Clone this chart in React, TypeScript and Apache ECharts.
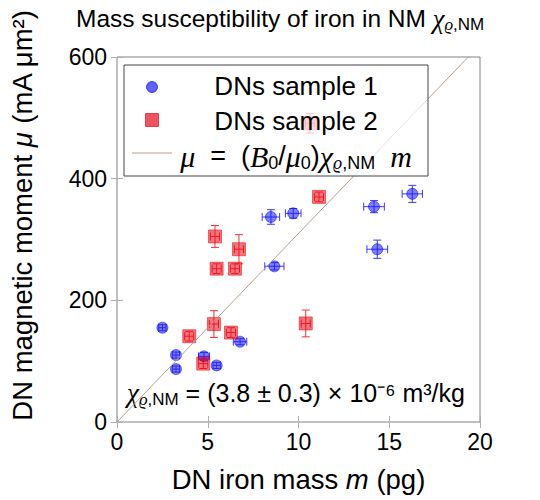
import React, { useEffect, useRef } from "react";
import * as echarts from "echarts";

// ---------- data ----------
const xTickValues = [0, 5, 10, 15, 20];
const yTickValues = [0, 200, 400, 600];

// DNs sample 1 (blue circles): iron mass m (pg), moment mu (mA µm²), and errors
const s1Mass = [2.5, 3.25, 3.25, 4.79, 5.49, 6.78, 8.48, 9.71, 8.67, 14.16, 14.34, 16.27];
const s1Moment = [155, 110, 87, 108, 93, 132, 337, 343, 256, 354, 284, 375];
const s1MassErr = [0.2, 0.2, 0.2, 0.3, 0.2, 0.37, 0.48, 0.43, 0.53, 0.57, 0.57, 0.56];
const s1MomentErr = [5, 5, 5, 6, 5, 5, 12, 8, 6, 10, 15, 14];

// DNs sample 2 (red squares)
const s2Mass = [3.98, 4.75, 5.34, 5.4, 5.49, 6.28, 6.5, 6.72, 10.4, 11.13, 10.63];
const s2Moment = [141, 96, 161, 305, 252, 147, 252, 284, 162, 370, 491];
const s2MassErr = [0.25, 0.25, 0.25, 0.25, 0.25, 0.25, 0.25, 0.25, 0.25, 0.25, 0.25];
const s2MomentErr = [8, 8, 22, 18, 8, 8, 8, 24, 22, 8, 16];

// fit line  mu = (B0/mu0) chi m
const fitMass = [0, 20];
const fitMoment = [0, 620];

// ---------- styles ----------
const SANS = "Liberation Sans";
const SERIF = "Liberation Serif";
const BLUE = "rgba(20,20,255,0.68)";
const BLUE_LINE = "#3a3aff";
const RED = "rgba(232,0,18,0.68)";
const RED_LINE = "#ff3030";
const FIT = "#b8a08a";

function richSet(size: number, mathExtra = 2) {
  return {
    t: { fontFamily: SANS, fontSize: size, fontWeight: "normal", color: "#000" },
    mi: { fontFamily: SERIF, fontStyle: "italic", fontWeight: "normal", fontSize: size + mathExtra, color: "#000" },
    si: {
      fontFamily: SERIF,
      fontStyle: "italic",
      fontWeight: "normal",
      fontSize: Math.round(size * 0.68),
      color: "#000",
      padding: [Math.round(size * 0.5), 0, 0, 0],
    },
    ss: {
      fontFamily: SANS,
      fontWeight: "normal",
      fontSize: Math.round(size * 0.68),
      color: "#000",
      padding: [Math.round(size * 0.5), 0, 0, 0],
    },
    it: { fontFamily: SANS, fontStyle: "italic", fontWeight: "normal", fontSize: size, color: "#000" },
  };
}

function errRenderer(color: string) {
  return (params: any, api: any) => {
    const x = api.value(0);
    const y = api.value(1);
    const ex = api.value(2);
    const ey = api.value(3);
    const c = api.coord([x, y]);
    const l = api.coord([x - ex, y]);
    const r = api.coord([x + ex, y]);
    const t = api.coord([x, y + ey]);
    const b = api.coord([x, y - ey]);
    const cap = 4;
    const style = { stroke: color, lineWidth: 1, fill: null };
    return {
      type: "group",
      children: [
        { type: "line", shape: { x1: l[0], y1: c[1], x2: r[0], y2: c[1] }, style },
        { type: "line", shape: { x1: l[0], y1: c[1] - cap, x2: l[0], y2: c[1] + cap }, style },
        { type: "line", shape: { x1: r[0], y1: c[1] - cap, x2: r[0], y2: c[1] + cap }, style },
        { type: "line", shape: { x1: c[0], y1: t[1], x2: c[0], y2: b[1] }, style },
        { type: "line", shape: { x1: c[0] - cap, y1: t[1], x2: c[0] + cap, y2: t[1] }, style },
        { type: "line", shape: { x1: c[0] - cap, y1: b[1], x2: c[0] + cap, y2: b[1] }, style },
      ],
    };
  };
}

export default function App() {
  const ref = useRef<HTMLDivElement>(null);

  useEffect(() => {
    document.body.style.margin = "0";
    if (!ref.current) return;
    const chart = echarts.init(ref.current, undefined, { renderer: "svg" });

    const axisCommon = {
      type: "value",
      splitLine: { show: false },
      axisLine: { show: false },
      axisTick: { show: true, inside: true, length: 6, lineStyle: { color: "#b0b0b0", width: 1 } },
    };

    const option: any = {
      animation: false,
      title: {
        text: "{t|Mass susceptibility of iron in NM }{mi|χ}{si|ϱ}{ss|,NM}",
        left: 76,
        top: 4,
        padding: 0,
        textStyle: { fontWeight: "normal", rich: richSet(24.5) },
      },
      grid: {
        left: 117,
        right: 60,
        top: 57,
        bottom: 78,
        show: true,
        borderColor: "#808080",
        borderWidth: 1,
        backgroundColor: "transparent",
      },
      xAxis: [
        {
          ...axisCommon,
          min: xTickValues[0],
          max: xTickValues[xTickValues.length - 1],
          interval: 5,
          position: "bottom",
          axisLabel: { fontFamily: SANS, fontSize: 23, color: "#000", margin: 8 },
          name: "{t|DN iron mass }{it|m}{t| (pg)}",
          nameLocation: "middle",
          nameGap: 43,
          nameTextStyle: { rich: richSet(27.5) },
        },
        {
          ...axisCommon,
          min: xTickValues[0],
          max: xTickValues[xTickValues.length - 1],
          interval: 5,
          position: "top",
          axisLabel: { show: false },
        },
      ],
      yAxis: [
        {
          ...axisCommon,
          min: yTickValues[0],
          max: yTickValues[yTickValues.length - 1],
          interval: 200,
          position: "left",
          axisLabel: { fontFamily: SANS, fontSize: 23, color: "#000", margin: 10 },
        },
        {
          ...axisCommon,
          min: yTickValues[0],
          max: yTickValues[yTickValues.length - 1],
          interval: 200,
          position: "right",
          axisLabel: { show: false },
        },
      ],
      series: [
        {
          name: "err1",
          type: "custom",
          renderItem: errRenderer(BLUE_LINE),
          data: s1Mass.map((m, i) => [m, s1Moment[i], s1MassErr[i], s1MomentErr[i]]),
          encode: { x: 0, y: 1 },
          z: 2,
        },
        {
          name: "DNs sample 1",
          type: "scatter",
          symbol: "circle",
          symbolSize: 11,
          data: s1Mass.map((m, i) => [m, s1Moment[i]]),
          itemStyle: { color: BLUE, borderColor: "rgba(0,0,220,0.8)", borderWidth: 0.8 },
          z: 3,
        },
        {
          name: "err2",
          type: "custom",
          renderItem: errRenderer(RED_LINE),
          data: s2Mass.map((m, i) => [m, s2Moment[i], s2MassErr[i], s2MomentErr[i]]),
          encode: { x: 0, y: 1 },
          z: 2,
        },
        {
          name: "DNs sample 2",
          type: "scatter",
          symbol: "rect",
          symbolSize: 13,
          data: s2Mass.map((m, i) => [m, s2Moment[i]]),
          itemStyle: { color: RED, borderColor: "rgba(230,0,0,0.8)", borderWidth: 0.8 },
          z: 3,
        },
        {
          name: "fit",
          type: "line",
          showSymbol: false,
          symbol: "none",
          data: fitMass.map((m, i) => [m, fitMoment[i]]),
          lineStyle: { color: FIT, width: 1 },
          z: 4,
        },
      ],
      graphic: [
        // legend box
        {
          type: "rect",
          z: 100,
          shape: { x: 124, y: 65, width: 304, height: 111 },
          style: { fill: "rgba(255,255,255,0.7)", stroke: "#444", lineWidth: 1 },
        },
        { type: "circle", z: 101, shape: { cx: 152, cy: 87, r: 5.5 }, style: { fill: BLUE, stroke: "rgba(0,0,220,0.8)", lineWidth: 0.8 } },
        { type: "rect", z: 101, shape: { x: 145.5, y: 113.5, width: 13, height: 13 }, style: { fill: RED, stroke: "rgba(230,0,0,0.8)", lineWidth: 0.8 } },
        { type: "line", z: 101, shape: { x1: 132, y1: 153, x2: 172, y2: 153 }, style: { stroke: FIT, lineWidth: 1 } },
        {
          type: "text",
          z: 101,
          x: 296,
          y: 86,
          style: { text: "DNs sample 1", fontFamily: SANS, fontSize: 26, fill: "#000", align: "center", verticalAlign: "middle", textAlign: "center", textVerticalAlign: "middle" },
        },
        {
          type: "text",
          z: 101,
          x: 296,
          y: 121,
          style: { text: "DNs sample 2", fontFamily: SANS, fontSize: 26, fill: "#000", align: "center", verticalAlign: "middle", textAlign: "center", textVerticalAlign: "middle" },
        },
        {
          type: "text",
          z: 101,
          x: 296,
          y: 156,
          style: {
            text: "{mi|μ}{t|  =  (}{mi|B}{ss|0}{t|/}{mi|μ}{ss|0}{t|)}{mi|χ}{si|ϱ}{ss|,NM}{t|  }{mi|m}",
            rich: richSet(27, 3),
            align: "center",
            verticalAlign: "middle",
            textAlign: "center",
            textVerticalAlign: "middle",
          },
        },
        // y axis label
        {
          type: "text",
          x: 22,
          y: 215,
          rotation: Math.PI / 2,
          style: {
            text: "{t|DN magnetic moment }{it|μ}{t| (mA μm²)}",
            rich: richSet(27.5),
            align: "center",
            verticalAlign: "middle",
            textAlign: "center",
            textVerticalAlign: "middle",
          },
        },
        // annotation
        {
          type: "text",
          x: 127,
          y: 393,
          style: {
            text: "{mi|χ}{si|ϱ}{ss|,NM}{t| = (3.8 ± 0.3) × 10⁻⁶ m³/kg}",
            rich: richSet(25),
            align: "left",
            verticalAlign: "middle",
            textAlign: "left",
            textVerticalAlign: "middle",
          },
        },
      ],
    };

    chart.setOption(option);
    return () => chart.dispose();
  }, []);

  return <div ref={ref} style={{ width: 540, height: 500 }} />;
}
